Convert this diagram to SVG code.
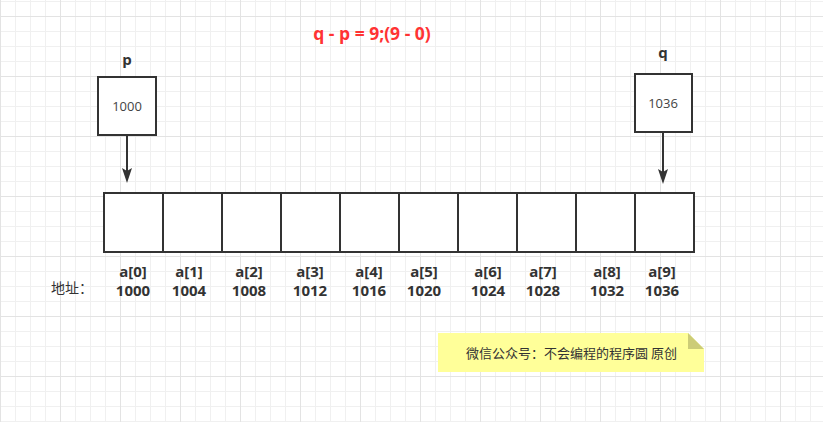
<svg xmlns="http://www.w3.org/2000/svg" width="823" height="422" viewBox="0 0 823 422">
<style>
.box{fill:#fff;stroke:#333;stroke-width:2}
.lbl{font-family:"Open Sans","Noto Sans","Noto Sans CJK SC",sans-serif;font-weight:bold;font-size:15px;fill:#333;text-anchor:middle}
.val{font-family:"Open Sans","Noto Sans",sans-serif;font-size:13px;fill:#444;text-anchor:middle}
.cjk{font-family:"Noto Sans CJK SC",sans-serif;fill:#333}
.conn{stroke:#333;stroke-width:2;fill:none}
</style>
<defs>
<pattern id="minor" width="15" height="15" patternUnits="userSpaceOnUse" x="0" y="1">
<rect width="15" height="15" fill="#fff"/>
<rect width="1" height="15" fill="#f0f0f0"/>
<rect width="15" height="1" fill="#f0f0f0"/>
</pattern>
<pattern id="major" width="60" height="60" patternUnits="userSpaceOnUse" x="0" y="16">
<rect width="1" height="60" fill="#e3e3e3"/>
<rect width="60" height="1" fill="#e3e3e3"/>
</pattern>
<marker id="arr" viewBox="0 -5 15 10" refX="12" refY="0" markerWidth="15" markerHeight="10" markerUnits="userSpaceOnUse" orient="auto">
<path d="M0,-5 L15,0 L0,5 L3,0 Z" fill="#333"/>
</marker>
</defs>
<rect width="823" height="422" fill="url(#minor)"/>
<rect width="823" height="422" fill="url(#major)"/>

<text x="372" y="40" font-family="Open Sans,Noto Sans,sans-serif" font-weight="bold" font-size="17.5" fill="#ff3333" text-anchor="middle">q - p = 9;(9 - 0)</text>

<g id="node-p">
<text class="lbl" x="127" y="65">p</text>
<rect class="box" x="98" y="77" width="58" height="58"/>
<text class="val" x="127" y="111">1000</text>
</g>

<g id="node-q">
<text class="lbl" x="663" y="58">q</text>
<rect class="box" x="635" y="74" width="57" height="58"/>
<text class="val" x="663" y="108">1036</text>
</g>

<g id="node-array">
<rect class="box" x="104" y="193" width="590" height="59"/>
<path class="conn" d="M163,193V252M222,193V252M281,193V252M340,193V252M399,193V252M458,193V252M517,193V252M576,193V252M635,193V252"/>
</g>

<g id="labels">
<text class="cjk" x="51" y="293" font-size="14">地址：</text>
<text class="lbl" x="133" y="277">a[0]</text>
<text class="lbl" x="133" y="296">1000</text>
<text class="lbl" x="189" y="277">a[1]</text>
<text class="lbl" x="189" y="296">1004</text>
<text class="lbl" x="249" y="277">a[2]</text>
<text class="lbl" x="249" y="296">1008</text>
<text class="lbl" x="310" y="277">a[3]</text>
<text class="lbl" x="310" y="296">1012</text>
<text class="lbl" x="369" y="277">a[4]</text>
<text class="lbl" x="369" y="296">1016</text>
<text class="lbl" x="424" y="277">a[5]</text>
<text class="lbl" x="424" y="296">1020</text>
<text class="lbl" x="488" y="277">a[6]</text>
<text class="lbl" x="488" y="296">1024</text>
<text class="lbl" x="543" y="277">a[7]</text>
<text class="lbl" x="543" y="296">1028</text>
<text class="lbl" x="607" y="277">a[8]</text>
<text class="lbl" x="607" y="296">1032</text>
<text class="lbl" x="662" y="277">a[9]</text>
<text class="lbl" x="662" y="296">1036</text>
</g>

<g id="note">
<path d="M438,333 H688 L704,349 V372 H438 Z" fill="#ffff99"/>
<path d="M688,333 L704,349 H688 Z" fill="#cccc77"/>
<text class="cjk" x="466" y="358" font-size="13">微信公众号：不会编程的程序圆 原创</text>
</g>

<g id="connectors">
<line class="conn" x1="127" y1="135" x2="127" y2="180" marker-end="url(#arr)"/>
<line class="conn" x1="663" y1="132" x2="663" y2="181" marker-end="url(#arr)"/>
</g>
</svg>
